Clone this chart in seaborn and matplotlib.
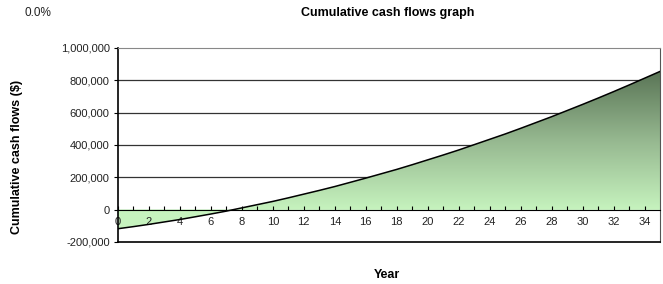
import numpy as np
import pandas as pd
import matplotlib
matplotlib.use("Agg")
import matplotlib.pyplot as plt
import seaborn as sns
from matplotlib.colors import LinearSegmentedColormap
from matplotlib.ticker import FuncFormatter

sns.set_style(
    {
        "axes.edgecolor": "0",
        "axes.facecolor": "white",
        "axes.grid": False,
        "xtick.direction": "in",
        "ytick.direction": "out",
    }
)
plt.rcParams['font.family'] = ['Liberation Sans', 'DejaVu Sans']

# cumulative cash flow per year ($)
years = list(range(36))
cum_cash = [-118000, -105000, -91000, -76000, -61000, -44000, -27000, -9000,
            11000, 31000, 51000, 73000, 96000, 119000, 143000, 169000,
            195000, 222000, 249000, 278000, 308000, 338000, 369000, 402000,
            435000, 468000, 503000, 539000, 575000, 613000, 651000, 690000,
            730000, 771000, 813000, 855000]
y_ticks = [-200000, 0, 200000, 400000, 600000, 800000, 1000000]
x_labels = [str(y) if y % 2 == 0 else '' for y in years[:35]]

df = pd.DataFrame({'Year': years, 'Cash': cum_cash})

fig = plt.figure(figsize=(6.63, 2.84), dpi=100)
ax = fig.add_axes([0.178, 0.148, 0.8175, 0.683])

# gradient fill between curve and zero
cmap = LinearSegmentedColormap.from_list('grn', ['#c6f3be', '#96b890', '#5a7556'])
grad = np.linspace(0, 1, 256).reshape(-1, 1)
img = ax.imshow(grad, cmap=cmap, origin='lower', aspect='auto',
                extent=[0, 35, 0, max(cum_cash)], zorder=1)
neg = ax.imshow(np.zeros((2, 1)), cmap=cmap, vmin=0, vmax=1, aspect='auto',
                extent=[0, 35, min(cum_cash), 0], zorder=1)
poly = ax.fill_between(df['Year'], df['Cash'], 0, color='none', lw=0)
img.set_clip_path(poly.get_paths()[0], transform=ax.transData)
neg.set_clip_path(poly.get_paths()[0], transform=ax.transData)

for v in y_ticks[2:-1]:
    ax.axhline(v, color='#333333', lw=0.9, zorder=0.5)

sns.lineplot(data=df, x='Year', y='Cash', color='black', lw=1.1, ax=ax, zorder=3)

ax.set_xlim(0, 35)
ax.set_ylim(-200000, 1000000)
ax.set_yticks(y_ticks)
ax.yaxis.set_major_formatter(FuncFormatter(lambda v, p: f'{int(v):,}'))
ax.set_xticks(years[:35])
ax.set_xticklabels(x_labels)
ax.tick_params(axis='x', length=3, width=0.8, pad=5, labelsize=8, colors='black',
               labelcolor='#222222')
ax.tick_params(axis='y', length=3, width=0.8, pad=3, labelsize=8, labelcolor='#222222')

ax.spines['bottom'].set_position(('data', 0))
ax.spines['bottom'].set_zorder(4)
ax.spines['top'].set_color('#888888')
ax.spines['right'].set_color('#555555')
ax.axhline(-200000, color='black', lw=1.2, clip_on=False, zorder=4)
ax.spines['left'].set_linewidth(1.2)

ax.set_xlabel('')
ax.set_ylabel('')
fig.text(0.026, 0.447, 'Cumulative cash flows ($)', rotation=90, ha='center', va='center',
         fontsize=9, fontweight='bold')
fig.text(0.584, 0.03, 'Year', ha='center', va='center', fontsize=9, fontweight='bold')
fig.text(0.585, 0.955, 'Cumulative cash flows graph', ha='center', va='center',
         fontsize=9, fontweight='bold')
fig.text(0.057, 0.955, '0.0%', ha='center', va='center', fontsize=8.5, color='#222222')

fig.savefig('out.png', dpi=100)
